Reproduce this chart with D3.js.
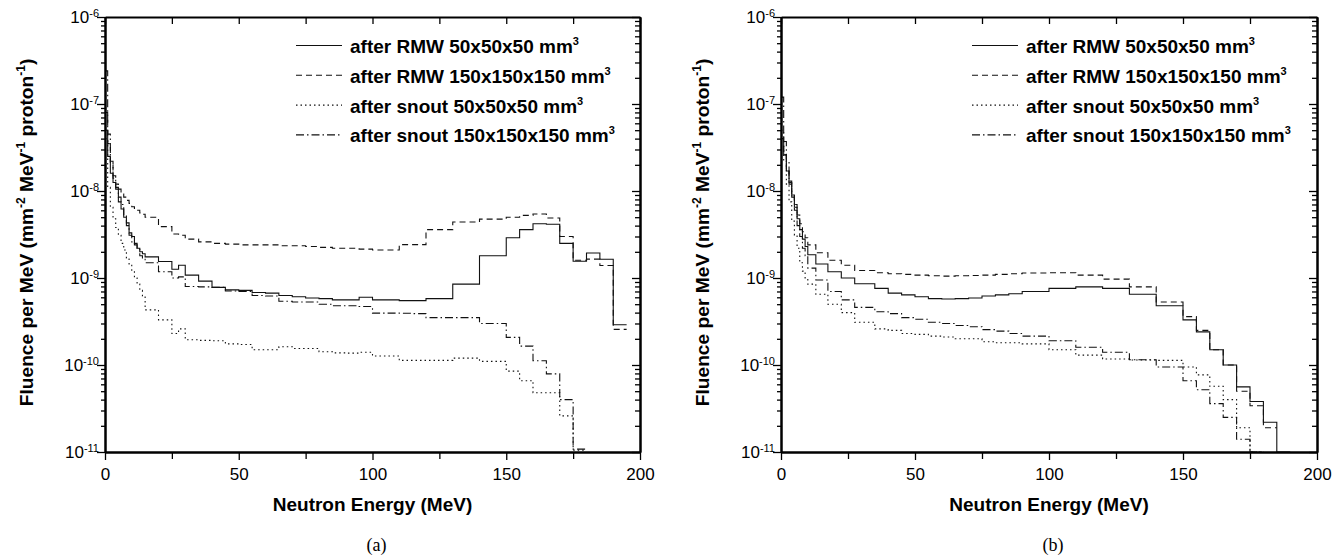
<!DOCTYPE html>
<html>
<head>
<meta charset="utf-8">
<script src="https://cdn.jsdelivr.net/npm/d3@7"></script>
<style>
  body { margin: 0; background: #fff; }
  text { font-family: "Liberation Sans", Arial, sans-serif; fill: #000; }
</style>
</head>
<body>
<div id="my_dataviz"></div>
<script>
// bin edges (MeV) for each panel
const edgesA = [0,1,2,3,4,5,6,7,8,9,10,11,12,13,14,15,20,25,27.5,30,35,40,45,50,55,60,65,70,75,80,85,90,95,100,
  105,110,115,120,125,130,135,140,145,150,155,160,165,170,175,180,185,190,195];
const edgesB = [0,1,2,3,4,5,6,7,8,9,10,13,17.5,22.5,27.5,35,40,45,50,55,60,65,70,75,80,85,90,
  100,110,120,130,140,150,155,160,165,170,175,180,185,190];

// panel (a): fluence per MeV in each bin
const rmw50A = [5e-8,2.5e-8,1.6e-8,1.25e-8,1.05e-8,7.5e-9,6.2e-9,5e-9,4e-9,3.3e-9,3e-9,2.5e-9,2.2e-9,2e-9,1.9e-9,
  1.75e-9,1.55e-9,1.26e-9,1.4e-9,1.08e-9,9.2e-10,7.8e-10,7.3e-10,7.2e-10,6.8e-10,6.7e-10,6.3e-10,6.1e-10,5.9e-10,
  5.8e-10,5.6e-10,5.6e-10,6e-10,5.6e-10,5.6e-10,5.5e-10,5.5e-10,5.8e-10,5.8e-10,8.5e-10,8.5e-10,1.8e-9,1.8e-9,
  2.9e-9,3.6e-9,4.2e-9,4.15e-9,2.5e-9,1.56e-9,1.94e-9,1.64e-9,2.9e-10];
const rmw150A = [8e-8,3.5e-8,2e-8,1.5e-8,1.2e-8,1.05e-8,9.2e-9,8.5e-9,7.8e-9,7.2e-9,6.6e-9,6.3e-9,6e-9,5.6e-9,5.4e-9,
  5e-9,3.9e-9,3.2e-9,3.1e-9,2.8e-9,2.6e-9,2.5e-9,2.45e-9,2.4e-9,2.4e-9,2.4e-9,2.35e-9,2.35e-9,2.3e-9,
  2.25e-9,2.2e-9,2.2e-9,2.15e-9,2.1e-9,2.1e-9,2.42e-9,2.42e-9,3.6e-9,3.6e-9,4.4e-9,4.4e-9,4.75e-9,4.75e-9,
  5e-9,5.25e-9,5.45e-9,4.9e-9,3e-9,1.6e-9,1.65e-9,1.39e-9,2.57e-10];
const snout50A = [4e-8,1.1e-8,6.5e-9,4.8e-9,3.8e-9,3.1e-9,2.5e-9,2.1e-9,1.7e-9,1.45e-9,1.2e-9,1e-9,8.5e-10,7.2e-10,6.2e-10,
  4.3e-10,3.3e-10,2.3e-10,2.6e-10,1.95e-10,1.92e-10,1.9e-10,1.75e-10,1.72e-10,1.5e-10,1.5e-10,1.62e-10,1.55e-10,1.55e-10,
  1.42e-10,1.38e-10,1.37e-10,1.4e-10,1.27e-10,1.27e-10,1.13e-10,1.13e-10,1.13e-10,1.13e-10,1.2e-10,1.2e-10,1.1e-10,1.1e-10,
  8.5e-11,6.6e-11,4.8e-11,4.8e-11,2.6e-11,1.05e-11,null,null,null];
const snout150A = [2.4e-7,4.5e-8,2.2e-8,1.4e-8,1.1e-8,8.5e-9,7e-9,5.3e-9,4.3e-9,3.1e-9,2.6e-9,2.4e-9,2.2e-9,1.8e-9,1.7e-9,
  1.5e-9,1.18e-9,1e-9,1.03e-9,8e-10,7.9e-10,7.8e-10,7.1e-10,7e-10,6.3e-10,6.2e-10,5.4e-10,5.3e-10,5.3e-10,
  5e-10,4.8e-10,4.8e-10,4.7e-10,3.95e-10,3.95e-10,3.93e-10,3.9e-10,3.5e-10,3.5e-10,3.5e-10,3.5e-10,3e-10,3e-10,
  2.08e-10,1.65e-10,1.12e-10,7.9e-11,4e-11,1.08e-11,null,null,null];

// panel (b)
const rmw50B = [4e-8,2.6e-8,1.7e-8,1.2e-8,8.5e-9,6.5e-9,4.8e-9,3.6e-9,2.8e-9,2.3e-9,
  1.85e-9,1.45e-9,1.18e-9,1e-9,8.6e-10,7.6e-10,6.7e-10,6.4e-10,6.1e-10,5.8e-10,5.74e-10,5.8e-10,5.9e-10,6.2e-10,
  6.4e-10,6.6e-10,7e-10,7.6e-10,7.9e-10,7.6e-10,6.5e-10,4.8e-10,3.3e-10,2.4e-10,1.5e-10,1e-10,5.6e-11,3.8e-11,
  2.2e-11,1e-11];
const rmw150B = [4e-8,2.6e-8,1.75e-8,1.25e-8,9e-9,7e-9,5.3e-9,4.2e-9,3.4e-9,2.9e-9,
  2.4e-9,1.95e-9,1.6e-9,1.4e-9,1.22e-9,1.15e-9,1.12e-9,1.1e-9,1.08e-9,1.06e-9,1.05e-9,1.06e-9,1.07e-9,1.08e-9,
  1.1e-9,1.12e-9,1.14e-9,1.15e-9,1.08e-9,9.7e-10,7.9e-10,5.3e-10,3.6e-10,2.5e-10,1.5e-10,1e-10,5e-11,3.4e-11,
  1.9e-11,null];
const snout50B = [5e-8,2.2e-8,1.2e-8,7.5e-9,4.5e-9,3.1e-9,2.2e-9,1.5e-9,1.2e-9,1e-9,
  8.5e-10,6.5e-10,5e-10,4e-10,3.1e-10,2.6e-10,2.5e-10,2.3e-10,2.25e-10,2.15e-10,2.1e-10,2e-10,2e-10,1.85e-10,
  1.8e-10,1.8e-10,1.75e-10,1.5e-10,1.3e-10,1.17e-10,1.14e-10,1.13e-10,9.5e-11,7.7e-11,5.7e-11,4e-11,1.9e-11,1e-11,
  null,null];
const snout150B = [1.2e-7,3.7e-8,2.2e-8,1.3e-8,9e-9,6e-9,4e-9,3e-9,2.2e-9,1.8e-9,
  1.3e-9,9.5e-10,7e-10,5.6e-10,4.6e-10,4.1e-10,3.9e-10,3.5e-10,3.35e-10,3.1e-10,3e-10,2.85e-10,2.75e-10,2.55e-10,
  2.45e-10,2.3e-10,2.15e-10,1.9e-10,1.6e-10,1.4e-10,1.15e-10,9.5e-11,6.6e-11,5.2e-11,3.6e-11,2.5e-11,1.4e-11,1e-11,
  null,null];

const seriesNames = ["after RMW 50x50x50 mm", "after RMW 150x150x150 mm",
                     "after snout 50x50x50 mm", "after snout 150x150x150 mm"];
const xMajor = [0, 50, 100, 150, 200];
const xMinor = [25, 75, 125, 175];
const yDecades = [1e-11, 1e-10, 1e-9, 1e-8, 1e-7, 1e-6];

// line styles, same order as seriesNames
const dashes = [null, "6,4", "1.5,3", "8,3,1.5,3"];

const plotTop = 17, plotBottom = 452;

const svg = d3.select("#my_dataviz")
  .append("svg")
    .attr("width", 1342)
    .attr("height", 557);

const panels = [
  {left: 105, right: 640, edges: edgesA, data: [rmw50A, rmw150A, snout50A, snout150A], caption: "(a)", id: "a"},
  {left: 781, right: 1317, edges: edgesB, data: [rmw50B, rmw150B, snout50B, snout150B], caption: "(b)", id: "b"}
];

// minor ticks of the log axis
const yMinor = [];
yDecades.slice(0, -1).forEach(function(d) {
  for (let k = 2; k < 10; k++) yMinor.push(d * k);
});

// histogram -> points for a step line (drop trailing empty bins)
function steps(edges, vals) {
  let last = vals.length - 1;
  while (last >= 0 && vals[last] == null) last--;
  const pts = [];
  for (let i = 0; i <= last; i++) pts.push([edges[i], vals[i]]);
  pts.push([edges[last + 1], vals[last]]);
  return pts;
}

function styleAxis(g, w) {
  g.select(".domain").attr("stroke-width", w).attr("stroke", "#000");
  g.selectAll(".tick line").attr("stroke-width", 1.3).attr("stroke", "#000");
}

panels.forEach(function(p) {
  const x = d3.scaleLinear().domain([0, 200]).range([p.left, p.right]);
  const y = d3.scaleLog().domain([1e-11, 1e-6]).range([plotBottom, plotTop]);
  const g = svg.append("g");

  g.append("clipPath").attr("id", "clip" + p.id)
    .append("rect")
      .attr("x", p.left).attr("y", plotTop - 1)
      .attr("width", p.right - p.left).attr("height", plotBottom - plotTop + 2);

  // curves
  const line = d3.line()
    .curve(d3.curveStepAfter)
    .x(function(d) { return x(d[0]); })
    .y(function(d) { return y(d[1]); });

  p.data.forEach(function(vals, i) {
    g.append("path")
      .datum(steps(p.edges, vals))
      .attr("clip-path", "url(#clip" + p.id + ")")
      .attr("d", line)
      .attr("fill", "none")
      .attr("stroke", "#111")
      .attr("stroke-width", 1.1)
      .attr("stroke-dasharray", dashes[i]);
  });

  // bottom axis
  const gx = g.append("g")
    .attr("transform", `translate(0,${plotBottom})`)
    .call(d3.axisBottom(x).tickValues(xMajor).tickSize(8).tickSizeOuter(0).tickPadding(8));
  gx.selectAll(".tick text").attr("font-size", 17).attr("font-family", "Liberation Sans, Arial, sans-serif");
  styleAxis(gx, 2);
  const gx2 = g.append("g")
    .attr("transform", `translate(0,${plotBottom})`)
    .call(d3.axisBottom(x).tickValues(xMinor).tickSize(7).tickSizeOuter(0).tickFormat(""));
  styleAxis(gx2, 2);

  // top axis (ticks inward)
  const gt = g.append("g")
    .attr("transform", `translate(0,${plotTop})`)
    .call(d3.axisTop(x).tickValues(xMajor.concat(xMinor)).tickSize(-7).tickSizeOuter(0).tickFormat(""));
  styleAxis(gt, 2);

  // left axis
  const gy = g.append("g")
    .attr("transform", `translate(${p.left},0)`)
    .call(d3.axisLeft(y).tickValues(yDecades).tickSize(8).tickSizeOuter(0).tickPadding(-2)
      .tickFormat(function() { return "10"; }));
  gy.selectAll(".tick text")
    .attr("font-size", 17)
    .attr("font-family", "Liberation Sans, Arial, sans-serif")
    .each(function(d) {
      d3.select(this).append("tspan")
        .attr("dy", "-0.55em")
        .attr("font-size", 11)
        .text(String(Math.round(Math.log10(d))));
    });
  styleAxis(gy, 2);
  const gy2 = g.append("g")
    .attr("transform", `translate(${p.left},0)`)
    .call(d3.axisLeft(y).tickValues(yMinor).tickSize(4).tickSizeOuter(0).tickFormat(""));
  styleAxis(gy2, 2);

  // right axis (ticks inward)
  const gr = g.append("g")
    .attr("transform", `translate(${p.right},0)`)
    .call(d3.axisRight(y).tickValues(yDecades).tickSize(-8).tickSizeOuter(0).tickFormat(""));
  styleAxis(gr, 2);
  const gr2 = g.append("g")
    .attr("transform", `translate(${p.right},0)`)
    .call(d3.axisRight(y).tickValues(yMinor).tickSize(-5).tickSizeOuter(0).tickFormat(""));
  styleAxis(gr2, 2);

  // axis titles
  const cx = (p.left + p.right) / 2;
  g.append("text")
    .attr("x", cx).attr("y", 511)
    .attr("text-anchor", "middle")
    .attr("font-size", 19).attr("font-weight", "bold")
    .text("Neutron Energy (MeV)");

  const yt = g.append("text")
    .attr("transform", `translate(${p.left - 72},${(plotTop + plotBottom) / 2 - 2}) rotate(-90)`)
    .attr("text-anchor", "middle")
    .attr("font-size", 19.2).attr("font-weight", "bold");
  yt.append("tspan").text("Fluence per MeV (mm");
  yt.append("tspan").attr("dy", -8).attr("font-size", 12).text("-2");
  yt.append("tspan").attr("dy", 8).text(" MeV");
  yt.append("tspan").attr("dy", -8).attr("font-size", 12).text("-1");
  yt.append("tspan").attr("dy", 8).text(" proton");
  yt.append("tspan").attr("dy", -8).attr("font-size", 12).text("-1");
  yt.append("tspan").attr("dy", 8).text(")");

  // legend
  seriesNames.forEach(function(name, i) {
    const ly = 45.5 + i * 29.8;
    g.append("line")
      .attr("x1", p.left + 191).attr("x2", p.left + 237)
      .attr("y1", ly).attr("y2", ly)
      .attr("stroke", "#111").attr("stroke-width", 1.1)
      .attr("stroke-dasharray", dashes[i]);
    const t = g.append("text")
      .attr("x", p.left + 245).attr("y", ly + 7.5)
      .attr("font-size", 19).attr("font-weight", "bold");
    t.append("tspan").text(name);
    t.append("tspan").attr("dy", -8).attr("font-size", 11).text("3");
  });

  // caption
  g.append("text")
    .attr("x", cx + 4).attr("y", 551)
    .attr("text-anchor", "middle")
    .style("font-family", "'Liberation Serif', 'Times New Roman', serif")
    .attr("font-size", 18)
    .text(p.caption);
});
</script>
</body>
</html>
